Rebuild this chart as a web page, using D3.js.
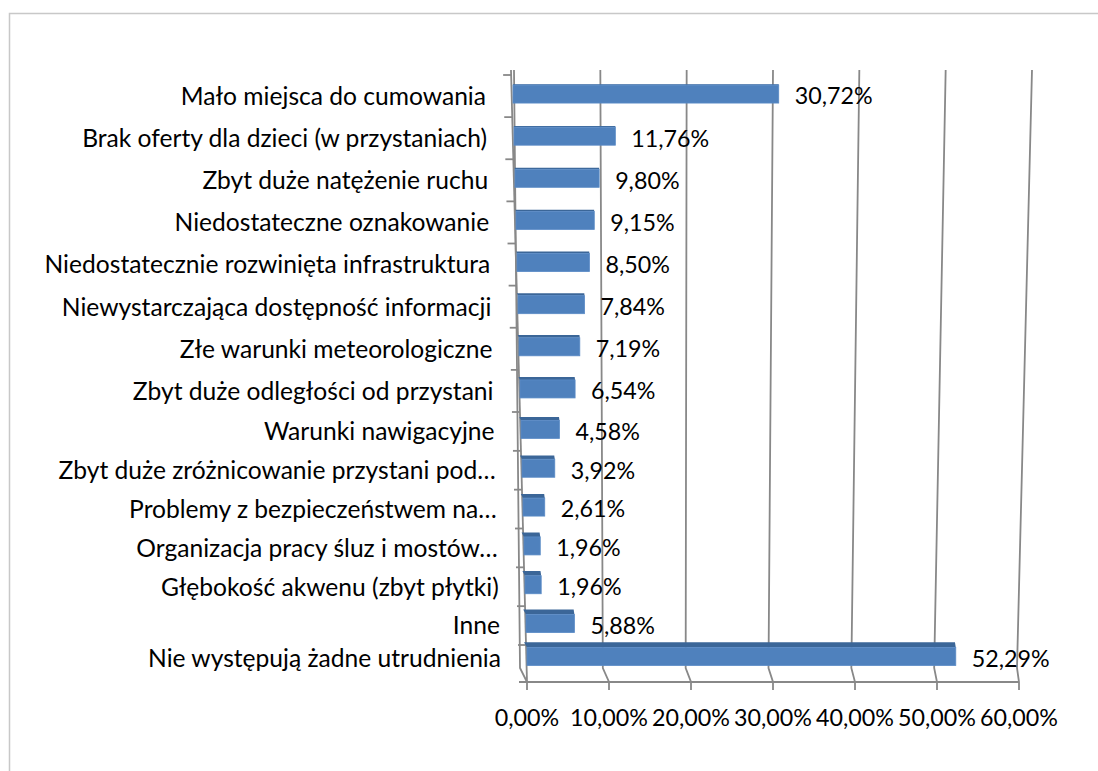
<!DOCTYPE html>
<html>
<head>
<meta charset="utf-8">
<script src="https://cdn.jsdelivr.net/npm/d3@7"></script>
<style>
  body { margin: 0; background: #fff; }
  svg { display: block; }
</style>
</head>
<body>
<div id="chart"></div>
<script>
// data
const categories = [
  "Mało miejsca do cumowania",
  "Brak oferty dla dzieci (w przystaniach)",
  "Zbyt duże natężenie ruchu",
  "Niedostateczne oznakowanie",
  "Niedostatecznie rozwinięta infrastruktura",
  "Niewystarczająca dostępność informacji",
  "Złe warunki meteorologiczne",
  "Zbyt duże odległości od przystani",
  "Warunki nawigacyjne",
  "Zbyt duże zróżnicowanie przystani pod…",
  "Problemy z bezpieczeństwem na…",
  "Organizacja pracy śluz i mostów…",
  "Głębokość akwenu (zbyt płytki)",
  "Inne",
  "Nie występują żadne utrudnienia"
];
const values = [30.72, 11.76, 9.80, 9.15, 8.50, 7.84, 7.19, 6.54, 4.58, 3.92, 2.61, 1.96, 1.96, 5.88, 52.29];
const ticks = [0, 10, 20, 30, 40, 50, 60];

const W = 1098, H = 771;
const fmt = v => v.toFixed(2).replace(".", ",") + "%";
const lerp = (a, b, t) => a + (b - a) * t;

const svg = d3.select("#chart").append("svg")
  .attr("width", W).attr("height", H);

// chart border (runs off the right and bottom)
svg.append("rect")
  .attr("x", 9.5).attr("y", 13.5)
  .attr("width", 1200).attr("height", 900)
  .attr("fill", "none").attr("stroke", "#c8c8c8").attr("stroke-width", 1.5);

// fake 3D: back wall scale at the top, at the foot, and the floor front edge
const topY = 70, kinkY = 668, floorY = 682;
const xTop = d3.scaleLinear().domain([0, 60]).range([514, 1032]);
const xKink = d3.scaleLinear().domain([0, 60]).range([520, 1017]);
const xFront = d3.scaleLinear().domain([0, 60]).range([527, 1019]);

// category boundaries, a little tighter towards the bottom
const yB = d3.scaleLinear().domain([0, 8, 14, 15]).range([75, 412, 645, 672]);
const n = categories.length;
const tRow = i => i / (n - 1);
const xBar = i => d3.scaleLinear().domain([0, 60])
  .range([lerp(513, 527, tRow(i)), lerp(1032, 1019, tRow(i))]);
const axisX = y => lerp(511, 527, (y - topY) / (floorY - topY));

const grid = svg.append("g")
  .attr("fill", "none").attr("stroke", "#888").attr("stroke-width", 1.8);

grid.selectAll("path.grid")
  .data(ticks)
  .join("path")
  .attr("class", "grid")
  .attr("d", v => d3.line()([
    [xTop(v), topY], [xKink(v), kinkY], [xFront(v), floorY], [xFront(v), floorY + 8]
  ]));

// floor front edge
grid.append("line")
  .attr("x1", axisX(floorY) - 8).attr("x2", xFront(60))
  .attr("y1", floorY).attr("y2", floorY);

// category axis and its ticks
grid.append("line")
  .attr("x1", axisX(topY)).attr("y1", topY)
  .attr("x2", axisX(floorY)).attr("y2", floorY);
grid.selectAll("line.ctick")
  .data(d3.range(n))
  .join("line")
  .attr("class", "ctick")
  .attr("x1", k => axisX(yB(k)) - 8).attr("x2", k => axisX(yB(k)))
  .attr("y1", k => yB(k)).attr("y2", k => yB(k));

// font size fitted so the text widths match the picture
const fontFamily = "Lato, 'Open Sans', sans-serif";
function fitSize(str, target) {
  const t = svg.append("text").attr("font-family", fontFamily)
    .attr("font-size", 20).text(str);
  const w = t.node().getComputedTextLength();
  t.remove();
  return 20 * target / w;
}
const catSize = fitSize(categories[4], 446);
const numSize = fitSize("60,00%", 78);

// bars
const barH = 18;
const bars = svg.append("g");
categories.forEach((c, i) => {
  const x = xBar(i);
  const yc = (yB(i) + yB(i + 1)) / 2 - 2;
  const x0 = x(0), x1 = x(values[i]);
  const y0 = yc - barH / 2;
  const tt = tRow(i);
  const h = 0.8 + 4.5 * tt;     // visible depth of the top face
  const dl = 3 * tt, dr = 0.8 * tt;
  bars.append("path")
    .attr("d", d3.line()([[x0, y0], [x1, y0], [x1 - dr, y0 - h], [x0 - dl, y0 - h]]) + "Z")
    .attr("fill", "#3b6698");
  bars.append("rect")
    .attr("x", x0).attr("y", y0)
    .attr("width", x1 - x0).attr("height", barH)
    .attr("fill", "#4f81bd")
    .attr("stroke", "#5a8bc6").attr("stroke-width", 0.8);
  bars.append("text")
    .attr("x", x1 + 16).attr("y", yc + 2)
    .attr("dy", "0.36em")
    .attr("font-family", fontFamily).attr("font-size", numSize)
    .attr("fill", "#000")
    .text(fmt(values[i]));
});

// category labels
svg.append("g")
  .selectAll("text")
  .data(categories)
  .join("text")
  .attr("x", (c, i) => lerp(486, 501, tRow(i)))
  .attr("y", (c, i) => (yB(i) + yB(i + 1)) / 2)
  .attr("dy", "0.36em")
  .attr("text-anchor", "end")
  .attr("font-family", fontFamily).attr("font-size", catSize)
  .attr("fill", "#000")
  .text(c => c);

// value axis labels
svg.append("g")
  .selectAll("text")
  .data(ticks)
  .join("text")
  .attr("x", v => xFront(v))
  .attr("y", 718)
  .attr("dy", "0.36em")
  .attr("text-anchor", "middle")
  .attr("font-family", fontFamily).attr("font-size", numSize)
  .attr("fill", "#000")
  .text(v => fmt(v));
</script>
</body>
</html>
